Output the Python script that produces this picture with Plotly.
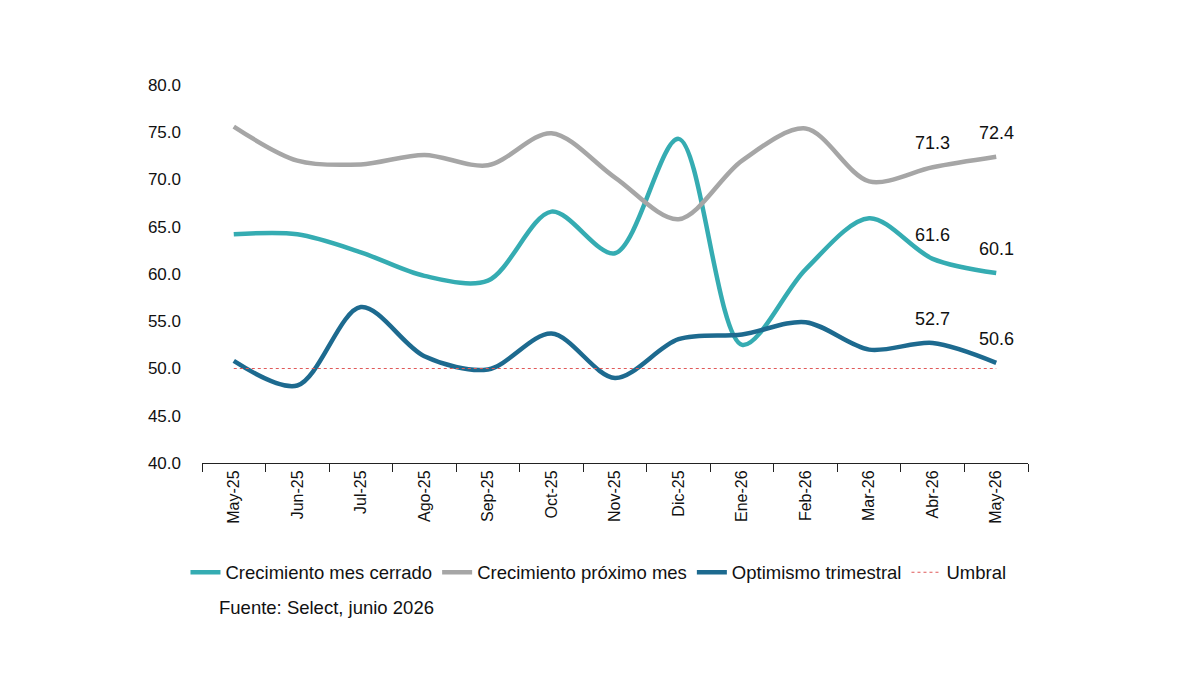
import plotly.graph_objects as go

# months on the x axis
meses = ["May-25", "Jun-25", "Jul-25", "Ago-25", "Sep-25", "Oct-25", "Nov-25",
         "Dic-25", "Ene-26", "Feb-26", "Mar-26", "Abr-26", "May-26"]

# series
crec_mes_cerrado = [64.2, 64.2, 62.3, 59.8, 59.3, 66.6, 62.2, 74.3, 52.5, 60.5, 65.9, 61.6, 60.1]
crec_proximo_mes = [75.6, 72.0, 71.6, 72.6, 71.5, 74.9, 70.2, 65.8, 72.0, 75.4, 69.8, 71.3, 72.4]
optimismo_trim = [50.8, 48.2, 56.5, 51.3, 49.9, 53.7, 49.0, 53.1, 53.6, 54.9, 52.0, 52.7, 50.6]
umbral = [50.0] * len(meses)

fig = go.Figure()
series = [
    ("Crecimiento mes cerrado", crec_mes_cerrado, "#35ACB2"),
    ("Crecimiento próximo mes", crec_proximo_mes, "#A6A6A6"),
    ("Optimismo trimestral", optimismo_trim, "#1D6A8F"),
]
for name, vals, color in series:
    fig.add_trace(go.Scatter(x=meses, y=vals, name=name, mode="lines",
                             line=dict(color=color, width=4.5, shape="spline", smoothing=0.9)))
    # labels only on the last two points
    for m, v in zip(meses[-2:], vals[-2:]):
        fig.add_annotation(x=m, y=v, text=f"{v:.1f}", showarrow=False, yshift=24,
                           font=dict(size=18, color="#111111"))

fig.add_trace(go.Scatter(x=meses, y=umbral, name="Umbral", mode="lines",
                         line=dict(color="#E05A5A", width=1.2, dash="dot")))

# page body adds 8px offset, so margins are shifted to compensate
fig.update_layout(
    width=1200, height=675,
    template="plotly_white",
    plot_bgcolor="white", paper_bgcolor="white",
    margin=dict(l=194, r=180, t=77, b=220),
    font=dict(family="Liberation Sans", color="#111111"),
    showlegend=True,
    legend=dict(orientation="h", x=-0.02, y=-0.24, xanchor="left", yanchor="top",
                font=dict(size=18.5, family="Liberation Sans"),
                itemwidth=30, tracegroupgap=0),
)
fig.update_xaxes(range=[-0.5, len(meses) - 0.5], showgrid=False, showline=True,
                 linecolor="#222222", linewidth=1,
                 ticks="outside", tickson="boundaries", ticklen=8, tickcolor="#222222",
                 tickangle=-90, tickfont=dict(size=16))
fig.update_yaxes(range=[40, 80], dtick=5, tickformat=".1f", showgrid=False,
                 zeroline=False, showline=False, tickfont=dict(size=17), ticklabelstandoff=20)

fig.add_annotation(text="Fuente: Select, junio 2026", xref="paper", yref="paper",
                   x=0.018, y=-0.35, xanchor="left", yanchor="top", showarrow=False,
                   font=dict(size=18.5))

fig.write_html("out.html")
